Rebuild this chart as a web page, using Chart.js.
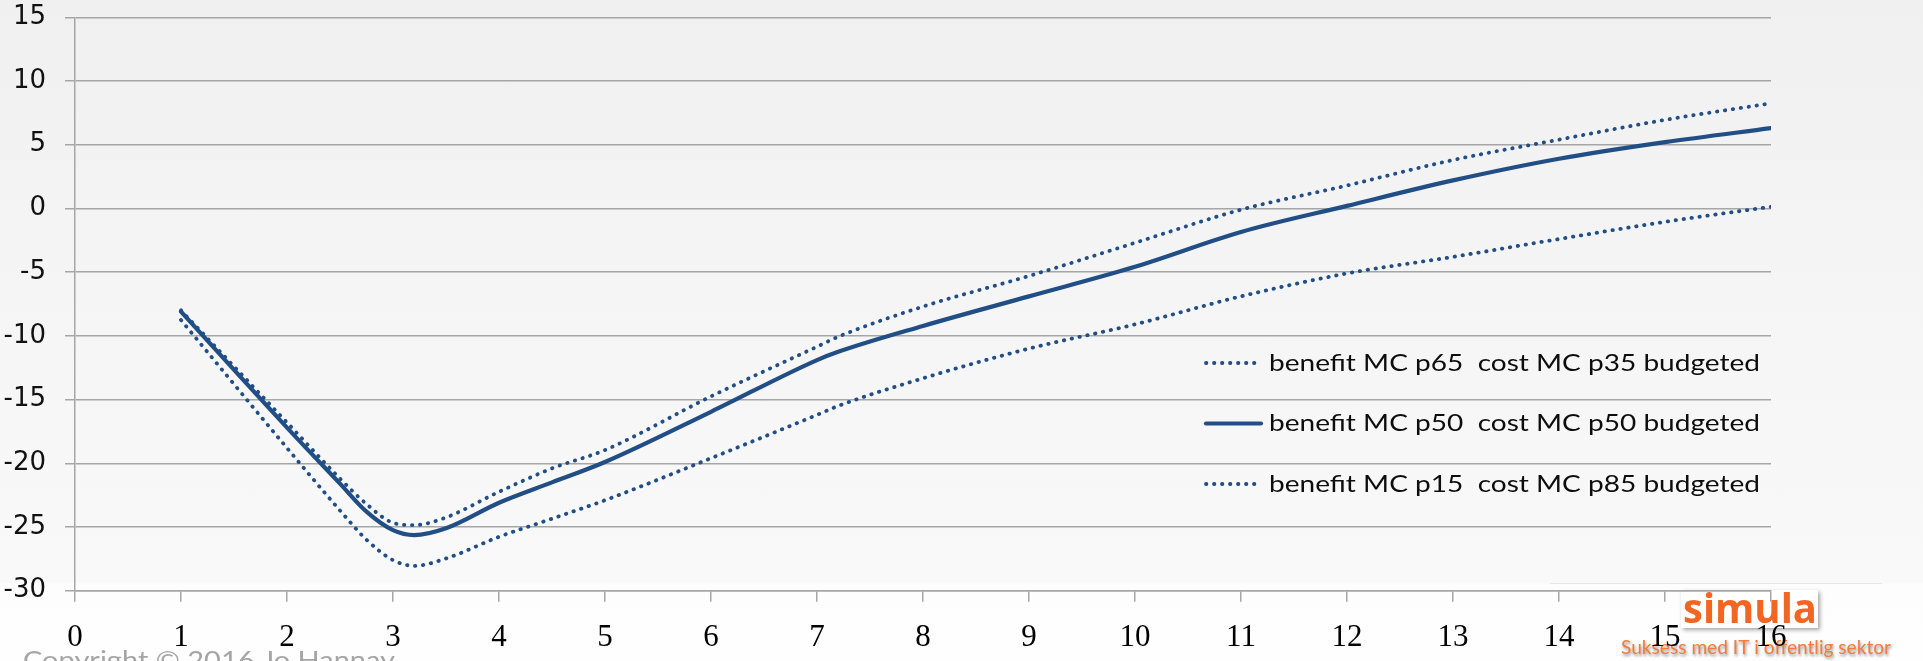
<!DOCTYPE html>
<html>
<head>
<meta charset="utf-8">
<script src="https://cdn.jsdelivr.net/npm/chart.js@4.4.1/dist/chart.umd.min.js"></script>
<style>
html,body{margin:0;padding:0;width:1923px;height:661px;overflow:hidden;}
body{background:linear-gradient(to bottom,#f0f0f0 0px,#f5f5f5 300px,#f9f9f9 583px,#fdfdfd 584px,#fefefe 661px);}
#wrap{position:relative;width:1923px;height:661px;}
canvas{position:absolute;left:0;top:0;}
</style>
</head>
<body>
<div id="wrap"><canvas id="c" width="1923" height="661"></canvas></div>
<script>
// ---- data ----
const xValues = [1, 2, 2.5, 2.75, 3, 3.2, 3.5, 4, 4.5, 5, 6, 7, 7.2, 8, 9, 10, 11, 12, 13, 14, 15, 16];
const benefitP65 = [-8.0, -16.8, -21.2, -23.2, -24.67, -24.85, -24.25, -22.24, -20.4, -18.96, -14.75, -10.85, -10.07, -7.7, -5.3, -2.7, -0.1, 1.8, 3.8, 5.4, 6.95, 8.25];
const benefitP50 = [-8.1, -17.2, -21.6, -23.8, -25.25, -25.64, -25.1, -23.1, -21.5, -19.9, -15.96, -11.9, -11.25, -9.22, -6.9, -4.58, -1.85, 0.2, 2.2, 3.9, 5.2, 6.3];
const benefitP15 = [-8.76, -18.8, -23.7, -26.0, -27.6, -28.05, -27.47, -25.77, -24.35, -22.9, -19.6, -16.2, -15.5, -13.33, -11.0, -9.1, -6.9, -5.1, -3.8, -2.4, -1.05, 0.13];
const seriesLabels = [
  'benefit MC p65  cost MC p35 budgeted',
  'benefit MC p50  cost MC p50 budgeted',
  'benefit MC p15  cost MC p85 budgeted'
];
const xRange = [0, 16];
const yRange = [-30, 15];
const yStep = 5;
const copyrightText = 'Copyright \u00A9 2016 Jo Hannay';
const logoText = 'simula';
const taglineText = 'Suksess med IT i offentlig sektor';

const toPoints = (ys) => xValues.map((x, i) => ({x: x, y: ys[i]}));
const lineColor = '#224e86';

function fittedText(ctx, text, x, y, targetWidth, font, color, baseline) {
  ctx.save();
  ctx.font = font;
  ctx.fillStyle = color;
  ctx.textBaseline = baseline || 'alphabetic';
  ctx.textAlign = 'left';
  const w = ctx.measureText(text).width;
  const s = targetWidth / w;
  ctx.translate(x, y);
  ctx.scale(s, 1);
  ctx.fillText(text, 0, 0);
  ctx.restore();
}

const backdropPlugin = {
  id: 'backdrop',
  beforeDraw(chart) {
    const ctx = chart.ctx;
    ctx.save();
    ctx.strokeStyle = 'rgba(0,0,0,0.08)';
    ctx.lineWidth = 1;
    ctx.beginPath(); ctx.moveTo(1550, 583.5); ctx.lineTo(1882, 583.5); ctx.stroke();
    ctx.shadowColor = 'rgba(0,0,0,0.35)';
    ctx.shadowBlur = 4; ctx.shadowOffsetX = 2; ctx.shadowOffsetY = 2;
    ctx.fillStyle = '#ffffff';
    ctx.fillRect(1681, 590, 137, 38);
    ctx.restore();
    fittedText(ctx, logoText, 1683, 622.5, 134, 'bold 42px "Open Sans"', '#f26522', 'alphabetic');
    ctx.save();
    ctx.shadowColor = 'rgba(0,0,0,0.45)';
    ctx.shadowBlur = 3; ctx.shadowOffsetX = 1; ctx.shadowOffsetY = 2;
    fittedText(ctx, taglineText, 1621, 654, 270, '20px Lato', '#f47b3c', 'alphabetic');
    ctx.restore();
    fittedText(ctx, copyrightText, 23, 669, 372, '25px Lato', '#a5a5a5', 'alphabetic');
  }
};

const legendPlugin = {
  id: 'inplotLegend',
  afterDatasetsDraw(chart) {
    const ctx = chart.ctx;
    const rows = [363, 423.5, 484];
    const font = '24px Lato';
    ctx.save();
    ctx.font = font;
    const scale = 491 / ctx.measureText(chart.data.datasets[0].label).width;
    ctx.restore();
    chart.data.datasets.forEach((ds, i) => {
      const y = rows[i];
      ctx.save();
      ctx.strokeStyle = ds.borderColor;
      ctx.lineWidth = ds.borderWidth;
      ctx.setLineDash(ds.borderDash || []);
      ctx.lineCap = ds.borderCapStyle || 'butt';
      ctx.beginPath(); ctx.moveTo(1206, y); ctx.lineTo(1261, y); ctx.stroke();
      ctx.restore();
      ctx.save();
      ctx.font = font;
      ctx.fillStyle = '#0d0d0d';
      ctx.textBaseline = 'middle';
      ctx.translate(1269, y);
      ctx.scale(scale, 1);
      ctx.fillText(ds.label, 0, 0);
      ctx.restore();
    });
  }
};

const dotted = {borderWidth: 3.8, borderDash: [0.4, 7.6], borderCapStyle: 'round'};

new Chart(document.getElementById('c'), {
  type: 'line',
  data: {
    datasets: [
      Object.assign({label: seriesLabels[0], data: toPoints(benefitP65), borderColor: lineColor}, dotted),
      {label: seriesLabels[1], data: toPoints(benefitP50), borderColor: lineColor, borderWidth: 4.2, borderDash: [], borderCapStyle: 'round'},
      Object.assign({label: seriesLabels[2], data: toPoints(benefitP15), borderColor: lineColor}, dotted)
    ]
  },
  options: {
    responsive: false,
    animation: false,
    devicePixelRatio: 1,
    elements: {point: {radius: 0, hoverRadius: 0}, line: {cubicInterpolationMode: 'monotone', fill: false}},
    layout: {padding: {left: 0, right: 152, top: 17.3, bottom: 0}},
    plugins: {legend: {display: false}, tooltip: {enabled: false}},
    scales: {
      x: {
        type: 'linear', min: xRange[0], max: xRange[1],
        ticks: {stepSize: 1, color: '#000000', font: {family: '"Liberation Serif"', size: 31}, padding: 18, maxRotation: 0, autoSkip: false},
        grid: {drawOnChartArea: false, drawTicks: true, tickLength: 11, color: '#a6a6a6', lineWidth: 1.5},
        border: {display: true, color: '#a6a6a6', width: 1.5},
        afterFit(s) { s.height = 70.3; s.paddingLeft = 0; s.paddingRight = 0; }
      },
      y: {
        type: 'linear', min: yRange[0], max: yRange[1],
        ticks: {stepSize: yStep, color: '#111111', font: {family: '"DejaVu Sans"', size: 26}, padding: 19},
        grid: {drawTicks: true, tickLength: 10, color: '#a6a6a6', lineWidth: 1.5},
        border: {display: true, color: '#a6a6a6', width: 1.5},
        afterFit(s) { s.width = 75; s.paddingTop = 0; s.paddingBottom = 0; }
      }
    }
  },
  plugins: [backdropPlugin, legendPlugin]
});
</script>
</body>
</html>
